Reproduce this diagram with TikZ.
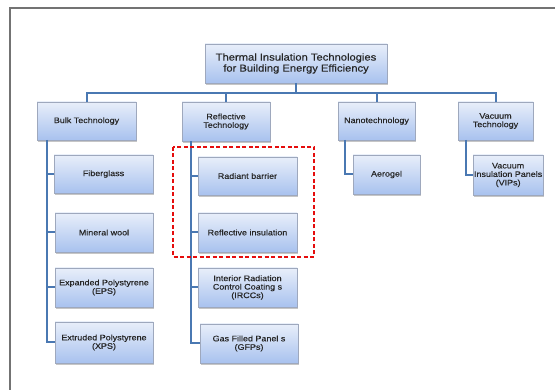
\documentclass[tikz,border=0pt]{standalone}
\usepackage{fontspec}
\setmainfont{Liberation Sans}[FakeStretch=1.12, FakeBold=0.3]
\usetikzlibrary{shadows}
\newlength{\du}
\setlength{\du}{1pt}
\definecolor{linkcolor}{rgb}{0.290000, 0.470000, 0.700000}
\definecolor{boxtop}{rgb}{0.910000, 0.935000, 0.980000}
\definecolor{boxbottom}{rgb}{0.660000, 0.760000, 0.935000}
\definecolor{boxline}{rgb}{0.620000, 0.660000, 0.740000}
\definecolor{framecolor}{rgb}{0.450000, 0.450000, 0.450000}
\definecolor{markcolor}{rgb}{0.900000, 0.050000, 0.050000}
\tikzset{
  techbox/.style={draw=boxline, line width=0.5\du, top color=boxtop, bottom color=boxbottom,
    anchor=north west, inner sep=1\du, outer sep=0pt, align=center, text=black!85,
    font=\fontsize{8}{8.5}\selectfont,
    drop shadow={shadow xshift=1\du, shadow yshift=-2\du, opacity=0.45}},
  link/.style={draw=linkcolor, line width=2\du},
}

\begin{document}
\begin{tikzpicture}
\pgftransformxscale{1.000000}
\pgftransformyscale{-1.000000}
\useasboundingbox (0\du,0\du) rectangle (555\du,390\du);
% frame
\draw[draw=framecolor, line width=1.5\du] (10\du,390\du)--(10\du,8\du)--(555\du,8\du);
% root
\node[techbox, minimum width=182\du, minimum height=39\du, font=\fontsize{10}{11}\selectfont]
  (root) at (205\du,44\du) {Thermal Insulation Technologies\\for Building Energy Efficiency};
% level 1
\node[techbox, minimum width=99\du, minimum height=38\du] (bulk) at (37\du,102\du) {Bulk Technology};
\node[techbox, minimum width=88\du, minimum height=39\du] (refl) at (182\du,102\du) {Reflective\\Technology};
\node[techbox, minimum width=77\du, minimum height=38\du] (nano) at (338\du,102\du) {Nanotechnology};
\node[techbox, minimum width=75\du, minimum height=38\du] (vac) at (458\du,102\du) {Vacuum\\Technology};
% bulk
\node[techbox, minimum width=99\du, minimum height=38\du] (fiber) at (54\du,155\du) {Fiberglass};
\node[techbox, minimum width=98\du, minimum height=39\du] (mineral) at (55\du,213\du) {Mineral wool};
\node[techbox, minimum width=98\du, minimum height=39\du] (eps) at (55\du,268\du) {Expanded Polystyrene\\(EPS)};
\node[techbox, minimum width=98\du, minimum height=41\du] (xps) at (55\du,322\du) {Extruded Polystyrene\\(XPS)};
% reflective
\node[techbox, minimum width=99\du, minimum height=38\du] (radiant) at (198\du,157\du) {Radiant barrier};
\node[techbox, minimum width=99\du, minimum height=39\du] (reflins) at (198\du,213\du) {Reflective insulation};
\node[techbox, minimum width=99\du, minimum height=39\du] (ircc) at (198\du,268\du) {Interior Radiation\\Control Coating s\\(IRCCs)};
\node[techbox, minimum width=98\du, minimum height=39\du] (gfp) at (200\du,324\du) {Gas Filled Panel s\\(GFPs)};
% nano, vacuum
\node[techbox, minimum width=67\du, minimum height=39\du] (aerogel) at (353\du,155\du) {Aerogel};
\node[techbox, minimum width=64\du, minimum height=40\du] (vip) at (473\du,155\du) {Vacuum\\Insulation Panels\\(VIPs)};
% connectors
\coordinate (bus) at (0\du,93\du);
\coordinate (bulkrail) at (47\du,0\du);
\coordinate (reflrail) at (191\du,0\du);
\coordinate (nanorail) at (345\du,0\du);
\coordinate (vacrail) at (466\du,0\du);
\draw[link] (root.south)--(root.south |- bus) -| (bulk.north);
\draw[link] (root.south |- bus) -| (refl.north);
\draw[link] (root.south |- bus) -| (nano.north);
\draw[link] (root.south |- bus) -| (vac.north);
\draw[link] (bulkrail |- bulk.south) |- (xps.west);
\draw[link] (bulkrail |- fiber.west)--(fiber.west);
\draw[link] (bulkrail |- mineral.west)--(mineral.west);
\draw[link] (bulkrail |- eps.west)--(eps.west);
\draw[link] (reflrail |- refl.south) |- (gfp.west);
\draw[link] (reflrail |- radiant.west)--(radiant.west);
\draw[link] (reflrail |- reflins.west)--(reflins.west);
\draw[link] (reflrail |- ircc.west)--(ircc.west);
\draw[link] (nanorail |- nano.south) |- (aerogel.west);
\draw[link] (vacrail |- vac.south) |- (vip.west);
% was here
\draw[draw=markcolor, line width=1.5\du, dash pattern=on 4\du off 2.5\du] (173\du,147\du) rectangle (314\du,257\du);
\end{tikzpicture}
\end{document}
